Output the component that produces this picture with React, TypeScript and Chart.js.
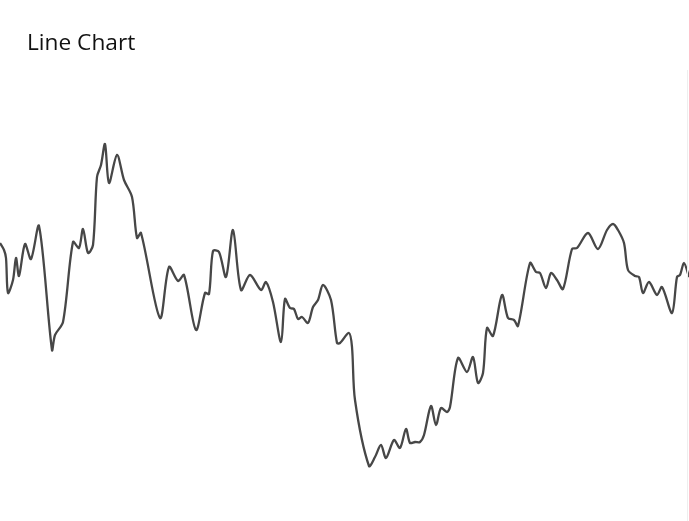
import React, { useEffect, useRef } from "react";
import { Chart, registerables } from "chart.js";

Chart.register(...registerables);

const titleText = "Line Chart";

const xs = [
  0, 4, 6, 8, 13, 16, 19, 25, 31, 39, 52, 55, 63, 73, 79, 83, 88, 93, 97, 101,
  105, 109, 117, 124, 132, 137, 141, 160, 169, 178, 184, 196, 205, 209, 213, 219, 226, 233, 241, 250,
  261, 266, 273, 281, 285, 290, 294, 298, 302, 308, 313, 318, 323, 331, 337, 340, 349, 352, 355, 369,
  375, 381, 386, 394, 400, 406, 410, 415, 420, 424, 431, 436, 441, 447, 450, 458, 467, 473, 478, 483,
  487, 493, 502, 508, 514, 518, 530, 536, 540, 546, 551, 557, 563, 572, 577, 588, 598, 607, 613, 618,
  624, 628, 635, 639, 643, 649, 657, 662, 672, 677, 680, 684, 689,
];

const values = [
  357, 350, 342, 307, 320, 342, 324, 356, 341, 374, 250, 265, 278, 358, 352, 371, 347, 355, 423, 435,
  456, 417, 445, 420, 403, 362, 367, 282, 333, 319, 325, 270, 307, 306, 349, 348, 323, 370, 310, 325,
  310, 318, 298, 258, 301, 292, 291, 281, 283, 277, 293, 300, 315, 300, 257, 257, 267, 253, 200, 134,
  143, 155, 142, 160, 152, 171, 157, 158, 158, 165, 194, 175, 192, 188, 193, 242, 228, 243, 217, 227,
  272, 264, 305, 282, 280, 274, 337, 328, 327, 312, 327, 320, 311, 351, 352, 367, 351, 370, 376, 370,
  357, 330, 324, 323, 307, 318, 305, 313, 287, 323, 325, 337, 323,
];

export default function App() {
  const ref = useRef<HTMLCanvasElement | null>(null);

  useEffect(() => {
    document.body.style.margin = "0";
    if (!ref.current) return;
    const points = xs.map((x, i) => ({ x, y: values[i] }));
    const chart = new Chart(ref.current, {
      type: "line",
      data: {
        datasets: [
          {
            data: points,
            borderColor: "#474747",
            borderWidth: 2.3,
            pointRadius: 0,
            tension: 0.3,
            fill: false,
          },
        ],
      },
      options: {
        animation: false,
        responsive: false,
        maintainAspectRatio: false,
        layout: { padding: 0 },
        plugins: {
          legend: { display: false },
          title: { display: false },
          tooltip: { enabled: false },
        },
        scales: {
          x: { type: "linear", min: 0, max: 689, display: false },
          y: { min: 79, max: 600, display: false },
        },
      },
    });
    return () => chart.destroy();
  }, []);

  return (
    <div style={{ position: "relative", width: 689, height: 521, background: "#fff", overflow: "hidden" }}>
      <canvas ref={ref} width={689} height={521} style={{ position: "absolute", left: 0, top: 0, width: 689, height: 521 }} />
      <div
        style={{
          position: "absolute",
          left: 27,
          top: 27,
          fontFamily: "'Open Sans', sans-serif",
          fontSize: 22.7,
          lineHeight: "30px",
          color: "#111",
          whiteSpace: "nowrap",
        }}
      >
        {titleText}
      </div>
      <div style={{ position: "absolute", left: 687, top: 70, width: 1, height: 451, background: "#eeeeee" }} />
    </div>
  );
}
